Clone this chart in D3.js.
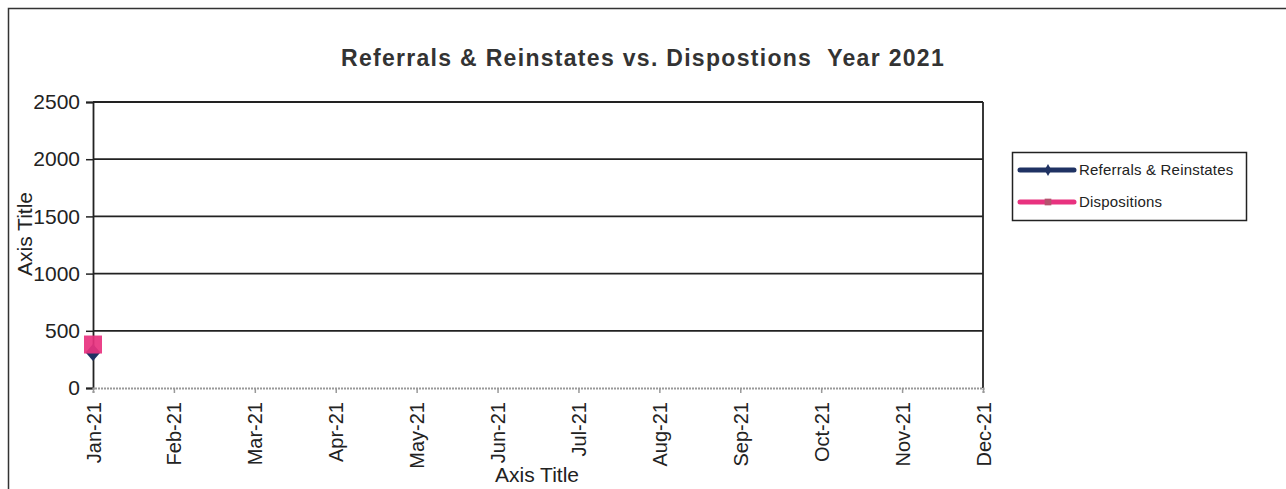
<!DOCTYPE html>
<html>
<head>
<meta charset="utf-8">
<script src="https://cdn.jsdelivr.net/npm/d3@7"></script>
<style>
  body { margin: 0; background: #fff; }
  text { font-family: 'Liberation Sans', Arial, sans-serif; fill: #222; }
</style>
</head>
<body>
<div id="chart"></div>
<script>
const months = ['Jan-21', 'Feb-21', 'Mar-21', 'Apr-21', 'May-21', 'Jun-21',
  'Jul-21', 'Aug-21', 'Sep-21', 'Oct-21', 'Nov-21', 'Dec-21']
const referrals = [310]
const dispositions = [380]
const yTicks = [0, 500, 1000, 1500, 2000, 2500]
const seriesNames = ['Referrals & Reinstates', 'Dispositions']

const margin = { top: 102, right: 303, bottom: 101, left: 93 }
const W = 1286
const H = 489
const width = W - margin.left - margin.right
const height = H - margin.top - margin.bottom

const root = d3.select('#chart').append('svg')
  .attr('width', W)
  .attr('height', H)

// outer chart border
root.append('rect')
  .attr('x', 8.5).attr('y', 8.5)
  .attr('width', W + 10).attr('height', H + 10)
  .attr('fill', 'none')
  .attr('stroke', '#333')
  .attr('stroke-width', 1.5)

root.append('text')
  .attr('x', 643)
  .attr('y', 66)
  .attr('text-anchor', 'middle')
  .attr('xml:space', 'preserve')
  .style('font-size', '23px')
  .style('font-weight', 'bold')
  .style('letter-spacing', '1.3px')
  .style('fill', '#333')
  .text('Referrals & Reinstates vs. Dispostions  Year 2021')

const svg = root.append('g')
  .attr('transform', 'translate(' + margin.left + ',' + margin.top + ')')

const x = d3.scalePoint().domain(months).range([0, width])
const y = d3.scaleLinear().domain([0, 2500]).range([height, 0])

/* gridlines */
svg.selectAll('.grid')
  .data(yTicks.filter(d => d > 0))
  .enter()
  .append('line')
  .attr('class', 'grid')
  .attr('x1', 0).attr('x2', width)
  .attr('y1', d => y(d)).attr('y2', d => y(d))
  .attr('stroke', '#222')
  .attr('stroke-width', 1.8)

// right frame edge
svg.append('line')
  .attr('x1', width).attr('x2', width)
  .attr('y1', 0).attr('y2', height)
  .attr('stroke', '#222')
  .attr('stroke-width', 1.8)

/* y axis */
const yAxis = d3.axisLeft(y).tickValues(yTicks).tickFormat(d3.format('d')).tickSize(7).tickPadding(6)
svg.append('g')
  .attr('class', 'y-axis')
  .call(yAxis)
  .call(g => g.select('.domain').attr('stroke', '#222').attr('stroke-width', 1.8))
  .call(g => g.selectAll('.tick line').attr('stroke', '#222').attr('stroke-width', 1.5))
  .call(g => g.selectAll('.tick text')
    .style('fill', '#222')
    .style('font-size', '21px')
    .attr('font-family', "'Liberation Sans', Arial, sans-serif"))

/* x axis */
const xAxis = d3.axisBottom(x).tickSize(5).tickPadding(6)
svg.append('g')
  .attr('class', 'x-axis')
  .attr('transform', 'translate(0,' + height + ')')
  .call(xAxis)
  .call(g => g.select('.domain').attr('stroke', '#999').attr('stroke-width', 2).attr('stroke-dasharray', '2 1'))
  .call(g => g.selectAll('.tick line').attr('stroke', '#999').attr('stroke-width', 1.5))
  .call(g => g.selectAll('.tick text')
    .style('fill', '#222')
    .style('font-size', '20px')
    .attr('font-family', "'Liberation Sans', Arial, sans-serif")
    .attr('text-anchor', 'end')
    .attr('transform', 'rotate(-90)')
    .attr('x', -14)
    .attr('y', 0)
    .attr('dy', '0.35em'))

/* axis titles */
root.append('text')
  .attr('transform', 'translate(32,234) rotate(-90)')
  .attr('text-anchor', 'middle')
  .style('font-size', '21px')
  .text('Axis Title')

root.append('text')
  .attr('x', 537)
  .attr('y', 482)
  .attr('text-anchor', 'middle')
  .style('font-size', '21px')
  .text('Axis Title')

/* series */
const navy = '#1f3263'
const pink = '#e8327f'

const line = d3.line().x((d, i) => x(months[i])).y(d => y(d))

svg.append('path')
  .datum(referrals)
  .attr('d', line)
  .attr('fill', 'none')
  .attr('stroke', navy)
  .attr('stroke-width', 5)

svg.append('path')
  .datum(dispositions)
  .attr('d', line)
  .attr('fill', 'none')
  .attr('stroke', pink)
  .attr('stroke-width', 5)

svg.selectAll('.dot-ref')
  .data(referrals)
  .enter()
  .append('path')
  .attr('class', 'dot-ref')
  .attr('d', d3.symbol().type(d3.symbolDiamond).size(130))
  .attr('transform', (d, i) => 'translate(' + x(months[i]) + ',' + y(d) + ') scale(1.2,0.8)')
  .attr('fill', navy)

svg.selectAll('.dot-disp')
  .data(dispositions)
  .enter()
  .append('rect')
  .attr('class', 'dot-disp')
  .attr('x', (d, i) => x(months[i]) - 9)
  .attr('y', d => y(d) - 9)
  .attr('width', 18)
  .attr('height', 18)
  .attr('fill', pink)
  .attr('opacity', 0.92)

/* legend */
const legend = root.append('g').attr('transform', 'translate(1012,152)')
legend.append('rect')
  .attr('x', 0.5).attr('y', 0.5)
  .attr('width', 234).attr('height', 68)
  .attr('fill', '#fff')
  .attr('stroke', '#222')
  .attr('stroke-width', 1.5)

const colors = [navy, pink]
const items = legend.selectAll('.item')
  .data(seriesNames)
  .enter()
  .append('g')
  .attr('transform', (d, i) => 'translate(8,' + (18 + i * 32) + ')')

items.append('line')
  .attr('x1', 0).attr('x2', 54)
  .attr('stroke', (d, i) => colors[i])
  .attr('stroke-width', 5)
  .attr('stroke-linecap', 'round')

items.append('path')
  .attr('d', (d, i) => d3.symbol().type(i === 0 ? d3.symbolDiamond : d3.symbolSquare).size(i === 0 ? 40 : 45)())
  .attr('transform', 'translate(28,0)')
  .attr('fill', (d, i) => i === 0 ? navy : '#b5526e')

items.append('text')
  .attr('x', 59)
  .attr('dy', '0.35em')
  .style('font-size', '15px')
  .style('letter-spacing', '0.2px')
  .text(d => d)
</script>
</body>
</html>
